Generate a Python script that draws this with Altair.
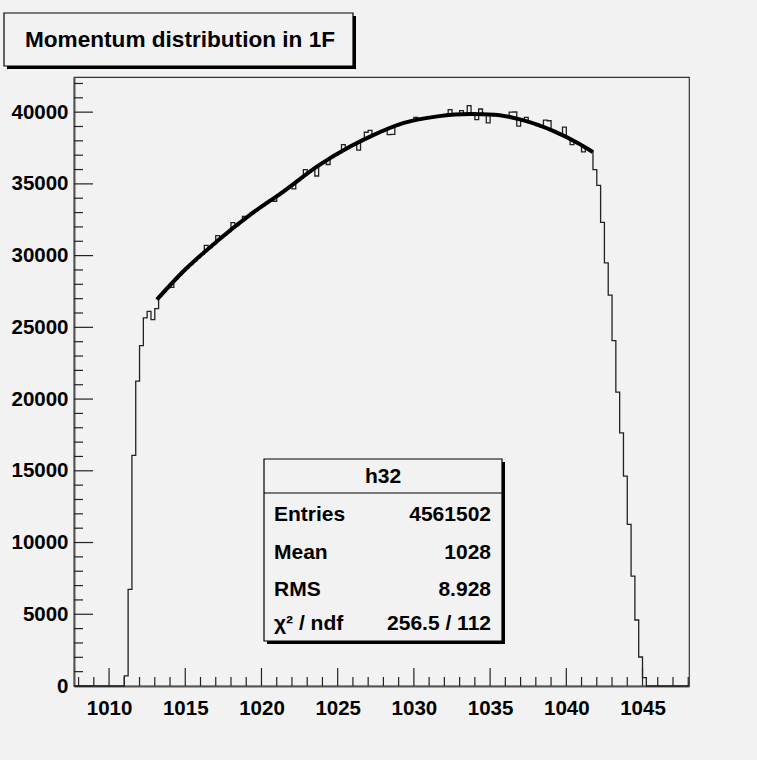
import altair as alt
import pandas as pd
import numpy as np

# ---------------- data ----------------
first_edge = 1007.75
bin_width = 0.25
n_bins = 161

# non-zero bins start at bin index 13
first_nonzero_bin = 13
counts_nonzero = [
    700, 6740, 16070, 21250, 23730, 25660, 26120, 25540, 26310,
    # fit region
    27204, 27487, 27771, 27780, 28337, 28621, 28903, 29142, 29379, 29617,
    29854, 30092, 30720, 30567, 30804, 31390, 31249, 31462, 31674, 32300,
    32098, 32311, 32740, 32735, 32936, 33121, 33307, 33492, 33678, 33863,
    33790, 34234, 34420, 34613, 34810, 34650, 35206, 35404, 35990, 35799,
    35997, 35550, 36360, 36519, 36350, 36837, 36996, 37155, 37730, 37473,
    37629, 37762, 37350, 38028, 38600, 38730, 38405, 38511, 38618, 38724,
    38430, 38450, 39044, 39150, 39252, 39304, 39357, 39640, 39461, 39513,
    39566, 39618, 39670, 39712, 39731, 39750, 40170, 39789, 39808, 40100,
    39847, 40450, 39870, 39480, 40220, 39846, 39250, 39831, 39805, 39755,
    39706, 39656, 40000, 40010, 39020, 39439, 39630, 39252, 39159, 39066,
    38973, 39450, 39400, 38693, 38574, 38443, 38960, 38181, 37740, 37918,
    37774, 37230, 37458, 37300,
    # falling edge
    35990, 34900, 32320, 29490, 27240, 24080, 20480, 17650, 14630, 11260,
    7660, 4600, 2020, 585,
]

fit_x = [1013.14, 1014.88, 1017.08, 1019.27, 1021.46, 1023.66, 1025.85, 1027.16,
         1029.35, 1031.55, 1033.73, 1035.27, 1037.02, 1039.21, 1040.75, 1041.74]
fit_y = [26938, 28909, 30999, 32858, 34482, 36223, 37616, 38313,
         39247, 39706, 39874, 39826, 39478, 38661, 37853, 37227]

x_major = [1010, 1015, 1020, 1025, 1030, 1035, 1040, 1045]
x_minor = [1008, 1009, 1011, 1012, 1013, 1014, 1016, 1017, 1018, 1019, 1021, 1022,
           1023, 1024, 1026, 1027, 1028, 1029, 1031, 1032, 1033, 1034, 1036, 1037,
           1038, 1039, 1041, 1042, 1043, 1044, 1046, 1047, 1048]
y_major = [0, 5000, 10000, 15000, 20000, 25000, 30000, 35000, 40000]
y_minor = [1000, 2000, 3000, 4000, 6000, 7000, 8000, 9000, 11000, 12000, 13000, 14000,
           16000, 17000, 18000, 19000, 21000, 22000, 23000, 24000, 26000, 27000, 28000,
           29000, 31000, 32000, 33000, 34000, 36000, 37000, 38000, 39000, 41000, 42000]

title_text = "Momentum distribution in 1F"
stats_name = "h32"
stats_labels = ["Entries", "Mean", "RMS", "\u03c7\u00b2 / ndf"]
stats_values = ["4561502", "1028", "8.928", "256.5 / 112"]

# ---------------- build table ----------------
counts = [0] * n_bins
for i, c in enumerate(counts_nonzero):
    counts[first_nonzero_bin + i] = c
edges = [first_edge + bin_width * k for k in range(n_bins + 1)]
hist = pd.DataFrame({"x": edges, "y": counts + [counts[-1]]})
fit = pd.DataFrame({"x": fit_x, "y": fit_y})

W, H = 615, 609
FONT = "Liberation Sans, Arial, Helvetica"
BG = "#f2f2f2"

xs = alt.Scale(domain=[1007.7, 1048.05], nice=False, zero=False)
ys = alt.Scale(domain=[0, 42450], nice=False, zero=False)

hist_line = alt.Chart(hist).mark_line(
    interpolate="step-after", color="#222222", strokeWidth=1.3
).encode(
    x=alt.X("x:Q", scale=xs, axis=alt.Axis(
        values=x_major, ticks=False, grid=False, labelFontSize=20.5, labelFont=FONT,
        labelFontWeight="bold", labelColor="#000", labelPadding=12, title=None,
        domainColor="#555", domainWidth=2, format="d")),
    y=alt.Y("y:Q", scale=ys, axis=alt.Axis(
        values=y_major, ticks=False, grid=False, labelFontSize=20.5, labelFont=FONT,
        labelFontWeight="bold", labelColor="#000", labelPadding=6, title=None,
        domainColor="#555", domainWidth=2, format="d")),
)

fit_line = alt.Chart(fit).mark_line(
    interpolate="monotone", color="#000000", strokeWidth=4
).encode(x=alt.X("x:Q", scale=xs), y=alt.Y("y:Q", scale=ys))

def xticks(vals, length):
    return alt.Chart(pd.DataFrame({"v": vals})).mark_rule(color="#222", strokeWidth=1.2).encode(
        x=alt.X("v:Q", scale=xs), y=alt.value(H), y2=alt.value(H - length))

def yticks(vals, length):
    return alt.Chart(pd.DataFrame({"v": vals})).mark_rule(color="#222", strokeWidth=1.2).encode(
        y=alt.Y("v:Q", scale=ys), x=alt.value(0), x2=alt.value(length))

one = pd.DataFrame({"a": [0]})

def box(x1, y1, x2, y2, fill, stroke=None, sw=0):
    kw = dict(fill=fill)
    if stroke:
        kw.update(stroke=stroke, strokeWidth=sw)
    return alt.Chart(one).mark_rect(**kw).encode(
        x=alt.value(x1), x2=alt.value(x2), y=alt.value(y1), y2=alt.value(y2))

def txt(s, x, y, align="left", size=22):
    return alt.Chart(one).mark_text(
        align=align, baseline="middle", font=FONT, fontSize=size, fontWeight="bold",
        color="#000").encode(x=alt.value(x), y=alt.value(y), text=alt.value(s))

# title box
layers = [
    box(-67, -61, 282, -8, "#000"),
    box(-70, -64, 279, -11, BG, "#000", 1.2),
    txt(title_text, -49, -37, size=22.6),
]
# stats box
sx1, sy1, sx2, sy2 = 190, 382, 428, 564
layers += [
    box(sx1 + 3, sy1 + 3, sx2 + 3, sy2 + 3, "#000"),
    box(sx1, sy1, sx2, sy2, BG, "#000", 1.2),
    alt.Chart(one).mark_rule(color="#000", strokeWidth=1.2).encode(
        x=alt.value(sx1), x2=alt.value(sx2), y=alt.value(416), y2=alt.value(416)),
    txt(stats_name, (sx1 + sx2) / 2, 400, align="center", size=21),
]
row_y = [438, 476, 513, 547]
for lab, val, yy in zip(stats_labels, stats_values, row_y):
    layers.append(txt(lab, 200, yy, size=21))
    layers.append(txt(val, 417, yy, align="right", size=21))

chart = alt.layer(
    hist_line,
    fit_line,
    xticks(x_major, 18), xticks(x_minor, 9),
    yticks(y_major, 19), yticks(y_minor, 9),
    *layers,
).properties(
    width=W, height=H, autosize=alt.AutoSizeParams(type="none"),
    padding={"left": 74, "top": 77, "right": 68, "bottom": 74},
    background=BG,
).configure_view(stroke="#333", strokeWidth=1.2)

chart.save("out.html", embed_options={"renderer": "svg", "actions": False})
